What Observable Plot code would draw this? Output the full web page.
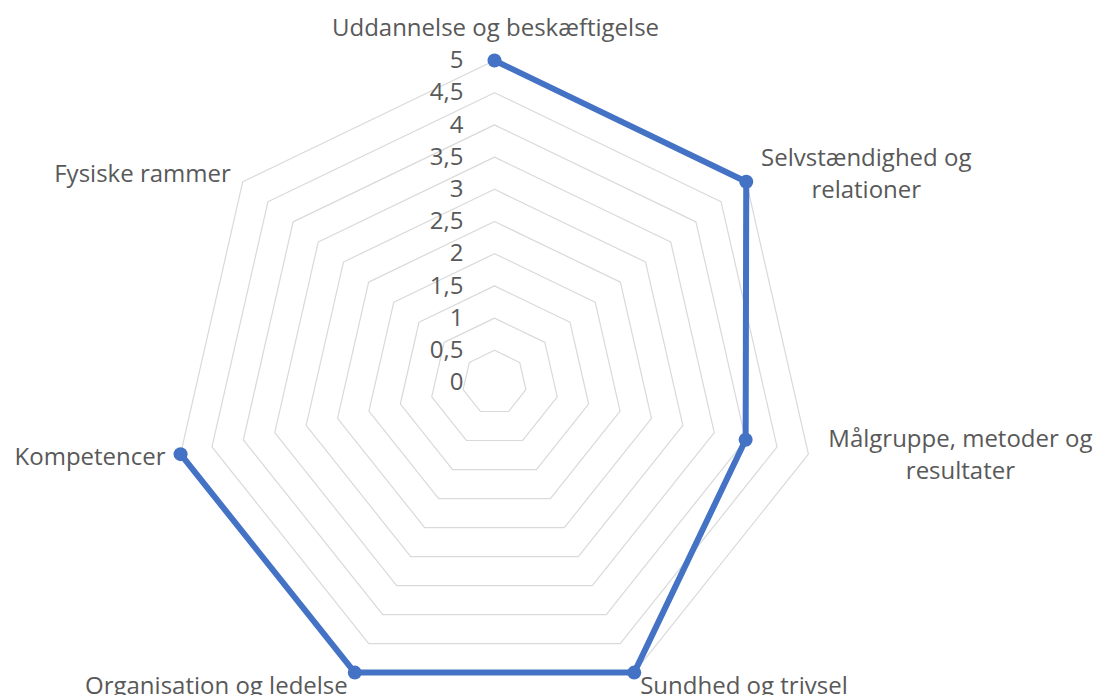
<!DOCTYPE html>
<html>
<head>
<meta charset="utf-8">
<script src="https://cdn.jsdelivr.net/npm/d3@7"></script>
<script src="https://cdn.jsdelivr.net/npm/@observablehq/plot@0.6"></script>
<style>
  html, body { margin: 0; padding: 0; background: #ffffff; }
  #chart svg { display: block; }
</style>
</head>
<body>
<div id="chart"></div>
<script>
// ---- data ----
const categories = [
  "Uddannelse og beskæftigelse",
  "Selvstændighed og\nrelationer",
  "Målgruppe, metoder og\nresultater",
  "Sundhed og trivsel",
  "Organisation og ledelse",
  "Kompetencer",
  "Fysiske rammer"
];
const values = [5, 5, 4, 5, 5, 5, null];
const tickValues = [0, 0.5, 1, 1.5, 2, 2.5, 3, 3.5, 4, 4.5, 5];
const tickLabels = ["0", "0,5", "1", "1,5", "2", "2,5", "3", "3,5", "4", "4,5", "5"];
const gridLevels = [0.5, 1, 1.5, 2, 2.5, 3, 3.5, 4, 4.5, 5];
const maxValue = 5;

// ---- layout / style ----
const W = 1102, H = 695;
const cx = 494, cy = 382;       // centre in px
const k = 64.4;                 // px per unit
const labelAnchors = ["middle", "middle", "middle", "start", "end", "end", "end"];
const labelDx = [1, 120, 152, 6, -7, -15, -12];
const labelDy = [-35, -10, -1, 11, 11, 1, -10];
const fontSize = 24;
const fontFamily = "'Open Sans', sans-serif";
const textColor = "#595959";
const seriesColor = "#4472C4";

const n = categories.length;
const ang = i => 2 * Math.PI * (i % n) / n;
const px = (v, i) => v == null ? NaN : v * Math.sin(ang(i));
const py = (v, i) => v == null ? NaN : v * Math.cos(ang(i));

const gridData = gridLevels.flatMap(level =>
  d3.range(n + 1).map(i => ({level, x: px(level, i), y: py(level, i)}))
);
const seriesData = d3.range(n + 1).map(i => {
  const v = values[i % n];
  return {x: px(v, i), y: py(v, i)};
});
const dotData = values.map((v, i) => ({v, i})).filter(d => d.v != null);

const labelMarks = categories.map((c, i) =>
  Plot.text([c], {
    x: () => px(maxValue, i),
    y: () => py(maxValue, i),
    text: d => d,
    textAnchor: labelAnchors[i],
    dx: labelDx[i],
    dy: labelDy[i],
    lineHeight: 1.33,
    fill: textColor,
    fontSize
  })
);

const chart = Plot.plot({
  width: W,
  height: H,
  margin: 0,
  style: {fontFamily, background: "#ffffff"},
  x: {domain: [-cx / k, (W - cx) / k], range: [0, W], axis: null},
  y: {domain: [-(H - cy) / k, cy / k], range: [H, 0], axis: null},
  marks: [
    Plot.line(gridData, {x: "x", y: "y", z: "level", stroke: "#d9d9d9", strokeWidth: 1.2}),
    Plot.text(tickValues, {
      x: () => 0,
      y: d => d,
      text: (d, i) => tickLabels[i],
      textAnchor: "end",
      dx: -31,
      fill: textColor,
      fontSize
    }),
    Plot.line(seriesData, {x: "x", y: "y", stroke: seriesColor, strokeWidth: 6, strokeLinejoin: "round", strokeLinecap: "round"}),
    Plot.dot(dotData, {x: d => px(d.v, d.i), y: d => py(d.v, d.i), r: 7, fill: seriesColor, stroke: "none"}),
    ...labelMarks
  ]
});
document.getElementById("chart").appendChild(chart);
</script>
</body>
</html>
